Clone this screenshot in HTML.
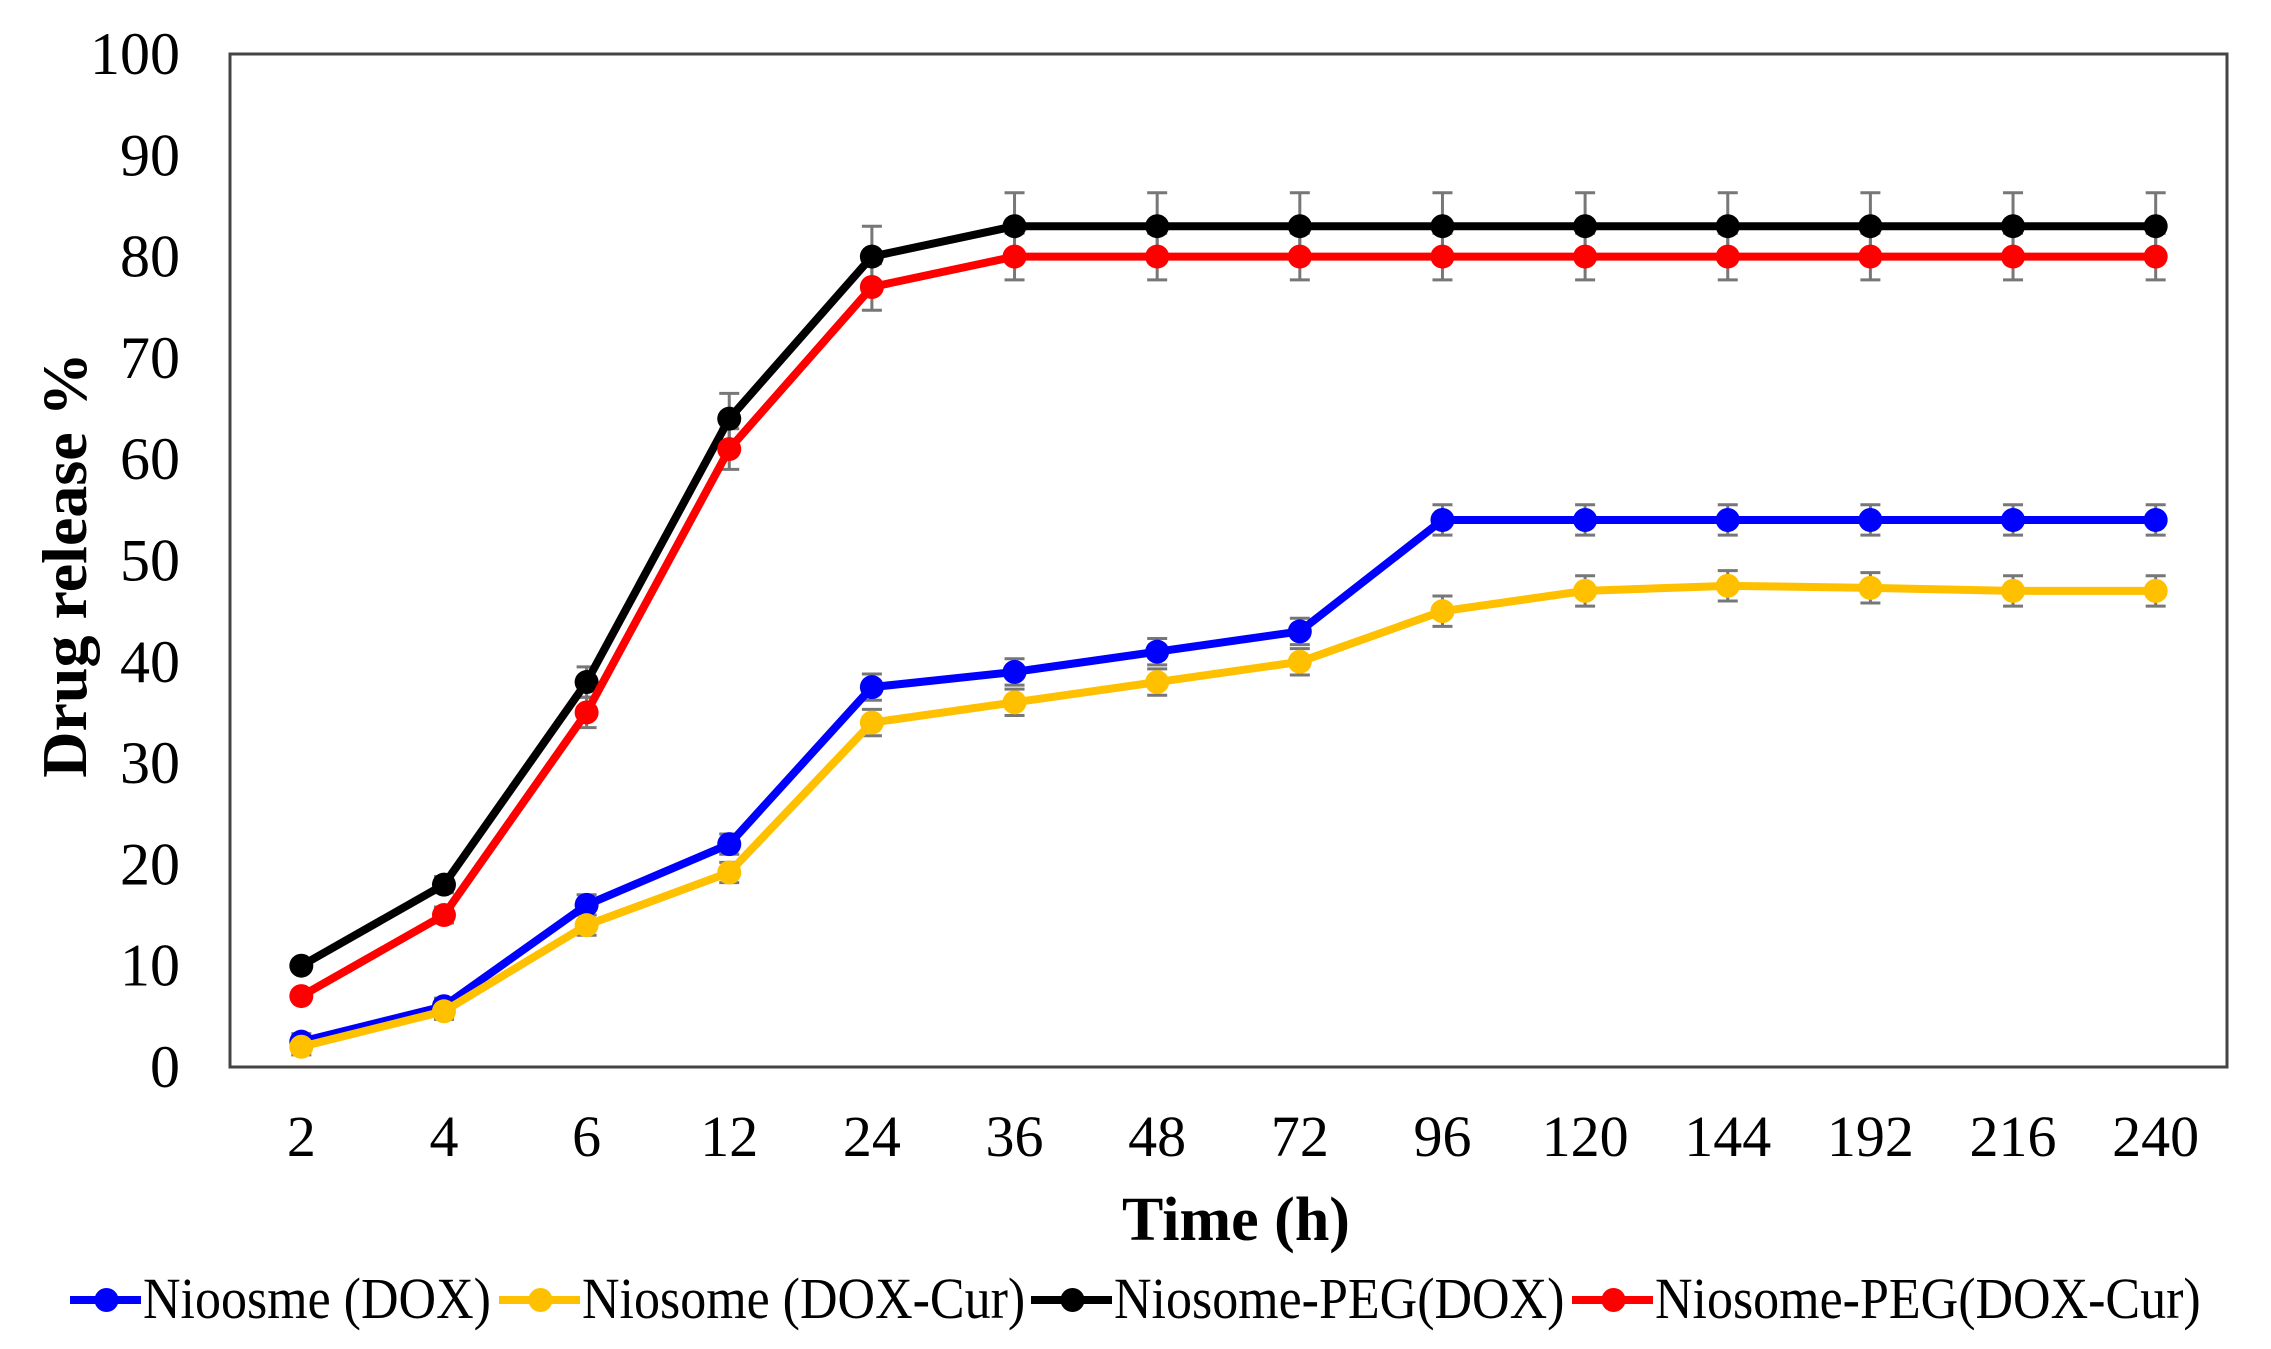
<!DOCTYPE html>
<html><head><meta charset="utf-8"><style>html,body{margin:0;padding:0;background:#fff}svg{display:block}</style></head>
<body>
<svg id="s" width="2271" height="1349" xmlns="http://www.w3.org/2000/svg" font-family="Liberation Serif, serif"></svg>
<script>
const L=230,R=2227,T=54,B=1067,n=14,cw=(R-L)/n;
const X=i=>L+cw*(i+0.5), Y=v=>B-(B-T)*v/100;
const cats=[2,4,6,12,24,36,48,72,96,120,144,192,216,240];
const series=[
 {c:'#0000ff',d:[2.5,6,16,22,37.5,39,41,43,54,54,54,54,54,54],e:[0.8,0.8,1,1,1.3,1.3,1.3,1.3,1.5,1.5,1.5,1.5,1.5,1.5]},
 {c:'#ffc000',d:[2,5.5,14,19.2,34,36,38,40,45,47,47.5,47.3,47,47],e:[0.8,0.8,1,1,1.3,1.3,1.3,1.3,1.5,1.5,1.5,1.5,1.5,1.5]},
 {c:'#000000',d:[10,18,38,64,80,83,83,83,83,83,83,83,83,83],e:[0.5,0.8,1.5,2.5,3,3.3,3.3,3.3,3.3,3.3,3.3,3.3,3.3,3.3]},
 {c:'#ff0000',d:[7,15,35,61,77,80,80,80,80,80,80,80,80,80],e:[0.5,0.8,1.5,2,2.3,2.3,2.3,2.3,2.3,2.3,2.3,2.3,2.3,2.3]}
];
let h='';
h+=`<rect x="${L}" y="${T}" width="${R-L}" height="${B-T}" fill="none" stroke="#444" stroke-width="3"/>`;
for(let v=0;v<=100;v+=10)h+=`<text x="180" y="${Y(v)+20}" font-size="60" text-anchor="end">${v}</text>`;
cats.forEach((c,i)=>h+=`<text x="${X(i)}" y="${1156}" font-size="58" text-anchor="middle">${c}</text>`);
h+=`<text x="0" y="0" font-size="64" font-weight="bold" text-anchor="middle" transform="translate(86,565) rotate(-90)">Drug release %</text>`;
h+=`<text x="1236" y="1240" font-size="62" font-weight="bold" text-anchor="middle">Time (h)</text>`;
series.forEach(s=>{s.d.forEach((v,i)=>{if(!s.e[i])return;const y1=Y(v+s.e[i]),y2=Y(v-s.e[i]),x=X(i);
 h+=`<path d="M${x} ${y1}V${y2}M${x-10} ${y1}H${x+10}M${x-10} ${y2}H${x+10}" stroke="#777" stroke-width="3" fill="none"/>`;});});
series.forEach(s=>{h+=`<polyline points="${s.d.map((v,i)=>X(i)+','+Y(v)).join(' ')}" fill="none" stroke="${s.c}" stroke-width="8" stroke-linejoin="round"/>`;
 s.d.forEach((v,i)=>h+=`<circle cx="${X(i)}" cy="${Y(v)}" r="12" fill="${s.c}"/>`);});
const leg=[[70,143,'Nioosme (DOX)'],[499,582,'Niosome (DOX-Cur)'],[1031,1114,'Niosome-PEG(DOX)'],[1572,1655,'Niosome-PEG(DOX-Cur)']];
leg.forEach((l,k)=>{const c=series[k].c;h+=`<line x1="${l[0]}" y1="1300" x2="${l[1]-2}" y2="1300" stroke="${c}" stroke-width="8"/><circle cx="${(l[0]+l[1])/2}" cy="1300" r="12" fill="${c}"/>`;
 h+=`<text x="${l[1]}" y="1318" font-size="52" transform="translate(0,${1318}) scale(1,1.12) translate(0,${-1318})">${l[2]}</text>`;});
document.getElementById('s').innerHTML=h;
</script>
</body></html>
